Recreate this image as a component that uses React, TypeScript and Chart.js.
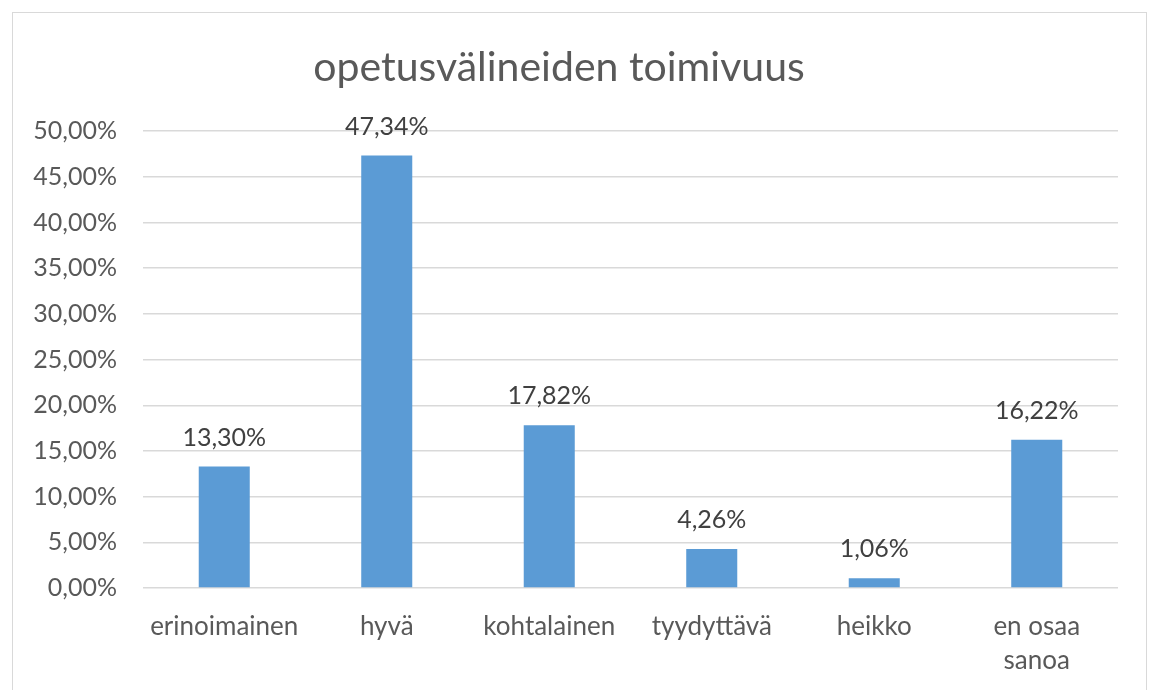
import React, { useEffect, useRef } from "react";
import { Chart, registerables } from "chart.js";

Chart.register(...registerables);

const titleText = "opetusvälineiden toimivuus";
const categories: (string | string[])[] = [
  "erinoimainen",
  "hyvä",
  "kohtalainen",
  "tyydyttävä",
  "heikko",
  ["en osaa", "sanoa"],
];
const values = [13.3, 47.34, 17.82, 4.26, 1.06, 16.22];
const yMin = 0;
const yMax = 50;
const yStep = 5;

const FONT = "Lato, 'Noto Sans', sans-serif";
const fmt = (v: number) => v.toFixed(2).replace(".", ",") + "%";

const dataLabels = {
  id: "dataLabels",
  afterDatasetsDraw(chart: any) {
    const ctx = chart.ctx;
    const meta = chart.getDatasetMeta(0);
    ctx.save();
    ctx.font = `25px ${FONT}`;
    ctx.fillStyle = "#404040";
    ctx.textAlign = "center";
    ctx.textBaseline = "middle";
    meta.data.forEach((bar: any, i: number) => {
      ctx.fillText(fmt(values[i]), bar.x, bar.y - 29);
    });
    ctx.restore();
  },
};

export default function App() {
  const ref = useRef<HTMLCanvasElement>(null);
  useEffect(() => {
    if (!ref.current) return;
    const chart = new Chart(ref.current, {
      type: "bar",
      data: {
        labels: categories,
        datasets: [
          {
            data: values,
            backgroundColor: "#5b9bd5",
            barPercentage: 0.314,
            categoryPercentage: 1,
          },
        ],
      },
      options: {
        animation: false,
        responsive: false,
        layout: { padding: { top: 0, left: 0, right: 34, bottom: 0 } },
        plugins: {
          legend: { display: false },
          tooltip: { enabled: false },
          title: {
            display: true,
            text: titleText,
            color: "#595959",
            font: { family: FONT, size: 41, weight: "normal" as any, lineHeight: 1.2 },
            padding: { top: 43, bottom: 39 },
          },
        },
        scales: {
          x: {
            grid: { display: false, drawTicks: false },
            border: { display: false },
            ticks: {
              color: "#595959",
              font: { family: FONT, size: 26, lineHeight: 1.3 },
              padding: 22,
              maxRotation: 0,
              minRotation: 0,
              autoSkip: false,
            },
            afterFit(scale: any) {
              scale.height = 102;
            },
          },
          y: {
            min: yMin,
            max: yMax,
            grid: { color: "#d9d9d9", drawTicks: false, lineWidth: 1.5 },
            border: { display: false },
            ticks: {
              stepSize: yStep,
              color: "#595959",
              font: { family: FONT, size: 25 },
              padding: 26,
              callback: (v: any) => fmt(Number(v)),
            },
            afterFit(scale: any) {
              scale.width = 143;
            },
          },
        },
      },
      plugins: [dataLabels],
    });
    return () => chart.destroy();
  }, []);
  return (
    <div style={{ position: "fixed", left: 0, top: 0, width: 1152, height: 690, background: "#fff" }}>
      <div
        style={{
          position: "absolute",
          left: 12,
          top: 12,
          width: 1135,
          height: 690,
          border: "1px solid #d9d9d9",
          borderBottom: "none",
          boxSizing: "border-box",
        }}
      />
      <canvas ref={ref} width={1152} height={690} style={{ position: "absolute", left: 0, top: 0 }} />
    </div>
  );
}
